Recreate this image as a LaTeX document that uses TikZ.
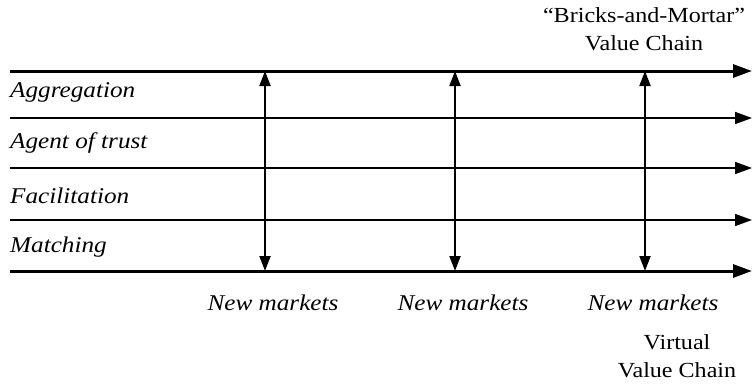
\documentclass[tikz,border=0pt]{standalone}
\usepackage{fontspec}
\setmainfont{Liberation Serif}[FakeStretch=1.12]
\usetikzlibrary{arrows.meta}
\begin{document}
\begin{tikzpicture}[x=1pt,y=1pt,
  lbl/.style={font=\fontsize{22.5}{24}\selectfont\itshape, inner sep=0pt},
  ttl/.style={font=\fontsize{21.5}{23}\selectfont, inner sep=0pt, align=center},
  thickline/.style={line width=3pt, -{Triangle[length=19pt,width=13pt]}},
  thinline/.style={line width=1.6pt, -{Triangle[length=17pt,width=12pt]}},
  varrow/.style={line width=2pt, {Triangle[length=15pt,width=11pt]}-{Triangle[length=15pt,width=11pt]}}]
\useasboundingbox (0,0) rectangle (752,384);
% horizontal lines (image y -> 384 - y)
\foreach \n/\y in {a/313,b/266,c/216,d/164,e/113}{
  \coordinate (L\n) at (10,\y);
  \coordinate (R\n) at (752,\y);
}
\draw[thickline] (La) -- (Ra);
\draw[thinline] (Lb) -- (Rb);
\draw[thinline] (Lc) -- (Rc);
\draw[thinline] (Ld) -- (Rd);
\draw[thickline] (Le) -- (Re);
% vertical double arrows
\foreach \i/\x in {1/265,2/455,3/645}{
  \coordinate (T\i) at (\x,313);
  \coordinate (B\i) at (\x,113);
  \draw[varrow] (T\i) -- (B\i);
  \node[lbl] (nm\i) at (\x+8,81) {New markets};
}
% row labels
\node[lbl, anchor=west] (agg) at (10,292) {Aggregation};
\node[lbl, anchor=west] (aot) at (10,241) {Agent of trust};
\node[lbl, anchor=west] (fac) at (10,188) {Facilitation};
\node[lbl, anchor=west] (mat) at (10,137) {Matching};
% titles
\node[ttl] (bm) at (644,355) {“Bricks-and-Mortar”\\[5pt]Value Chain};
\node[ttl] (vv) at (677,28) {Virtual\\[5pt]Value Chain};
\end{tikzpicture}
\end{document}
